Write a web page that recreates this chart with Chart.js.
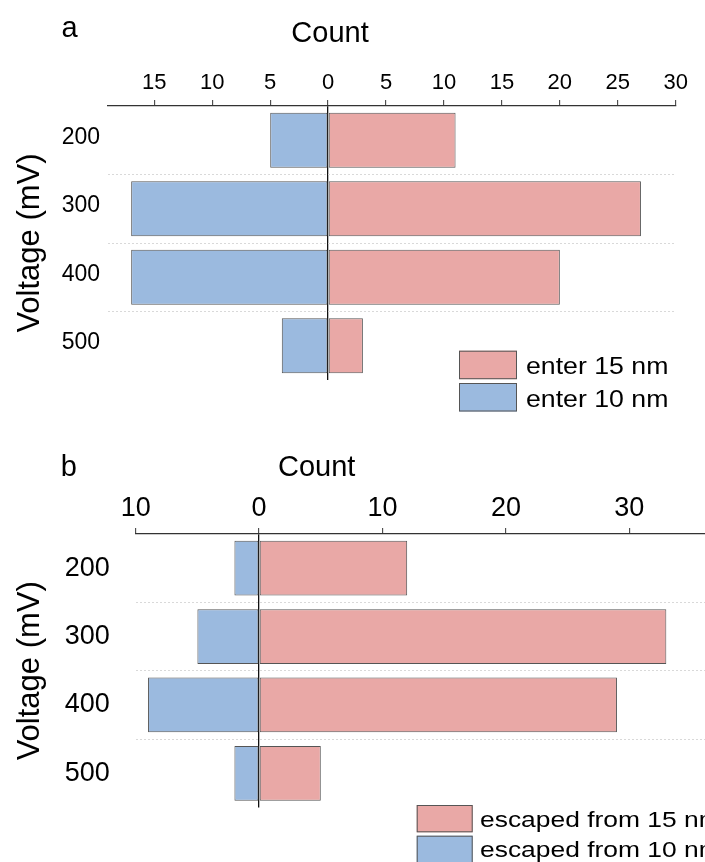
<!DOCTYPE html>
<html><head><meta charset="utf-8">
<script src="https://cdn.jsdelivr.net/npm/chart.js@4"></script>
<style>
html,body{margin:0;padding:0;background:#fff;overflow:hidden;width:705px;height:862px;}
#wrap{position:relative;width:705px;height:862px;overflow:hidden;background:#fff;}
#ca{position:absolute;left:0;top:0;}
#cb{position:absolute;left:0;top:430px;}
</style></head><body>
<div id="wrap"><canvas id="ca" width="705" height="430"></canvas><canvas id="cb" width="790" height="432"></canvas></div>
<script>
const voltages = ['200', '300', '400', '500'];
const enter15 = [11, 27, 20, 3];
const enter10 = [5, 17, 17, 4];
const escaped15 = [12, 33, 29, 5];
const escaped10 = [2, 5, 9, 2];
const ticksA = [-15, -10, -5, 0, 5, 10, 15, 20, 25, 30];
const ticksB = [-10, 0, 10, 20, 30, 40];

const RED = '#e9a8a6', BLUE = '#9bbadf', EDGE = '#555';
const FONT = '"Liberation Sans", Arial, Helvetica, sans-serif';
Chart.defaults.font.family = FONT;
Chart.defaults.color = '#000';

const overlay = {
  id: 'overlay',
  afterDraw(chart, args, opts) {
    const ctx = chart.ctx;
    ctx.save();
    ctx.fillStyle = '#000';
    ctx.textBaseline = 'alphabetic';
    (opts.texts || []).forEach(t => {
      ctx.font = t.size + 'px ' + FONT;
      ctx.textAlign = t.align || 'left';
      ctx.fillText(t.text, t.x, t.y);
    });
    const lg = opts.box;
    if (lg) {
      lg.order.forEach((di, k) => {
        const ds = chart.data.datasets[di];
        const y = lg.y + k * lg.step;
        ctx.fillStyle = ds.backgroundColor;
        ctx.fillRect(lg.x, y, lg.w, lg.h);
        ctx.strokeStyle = EDGE; ctx.lineWidth = 1;
        ctx.strokeRect(lg.x + 0.5, y + 0.5, lg.w - 1, lg.h - 1);
        ctx.fillStyle = '#000';
        ctx.font = lg.size + 'px ' + FONT;
        ctx.textAlign = 'left';
        ctx.save();
        ctx.translate(lg.tx, y + lg.base);
        ctx.scale(lg.sx, 1);
        ctx.fillText(ds.label, 0, 0);
        ctx.restore();
      });
    }
    ctx.restore();
  }
};

function build(canvasId, labels15, values15, labels10, values10, tickVals, c) {
  return new Chart(document.getElementById(canvasId), {
    type: 'bar',
    data: {
      labels: voltages,
      datasets: [
        { label: labels15, data: values15, backgroundColor: RED, borderColor: EDGE, borderWidth: 1, borderSkipped: false },
        { label: labels10, data: values10.map(v => -v), backgroundColor: BLUE, borderColor: EDGE, borderWidth: 1, borderSkipped: false }
      ]
    },
    options: {
      indexAxis: 'y',
      responsive: false,
      animation: false,
      devicePixelRatio: 1,
      layout: { padding: c.pad },
      datasets: { bar: { categoryPercentage: 0.8, barPercentage: 1.0 } },
      plugins: {
        legend: { display: false },
        tooltip: { enabled: false },
        overlay: { texts: c.texts, box: c.box }
      },
      scales: {
        x: {
          type: 'linear', position: 'top', stacked: true,
          min: c.min, max: c.max, z: 1,
          afterBuildTicks: s => { s.ticks = tickVals.map(v => ({ value: v })); },
          afterFit: s => { s.height = c.axisH; },
          ticks: { font: { size: c.xFont }, padding: c.xPad, color: '#000', maxRotation: 0, autoSkip: false,
                   callback: v => String(Math.abs(v)) },
          grid: { drawOnChartArea: true, color: g => (g.tick && g.tick.value === 0) ? '#111' : 'rgba(0,0,0,0)',
                  lineWidth: 1.3, tickColor: '#333', tickLength: 6, tickWidth: 1 },
          border: { display: true, color: '#333', width: 1.2 }
        },
        y: {
          stacked: true,
          afterFit: s => { s.width = c.axisW; },
          ticks: { font: { size: c.yFont }, padding: c.yPad, labelOffset: c.yOff, color: '#000' },
          grid: { color: g => (g.type !== 'tick' || g.index === 0) ? 'rgba(0,0,0,0)' : '#d9d9d9',
                  lineWidth: 1, drawTicks: false },
          border: { display: false, dash: [2, 2] },
          title: { display: true, text: 'Voltage (mV)', font: { size: c.tFont }, color: '#000',
                   padding: { top: c.tPad, bottom: 0 } }
        }
      }
    },
    plugins: [overlay]
  });
}

build('ca', 'enter 15 nm', enter15, 'enter 10 nm', enter10, ticksA, {
  min: -19, max: 30, axisH: 106, axisW: 108,
  pad: { top: 0, left: 0, right: 29.3, bottom: 50 },
  xFont: 22, xPad: 4, yFont: 23, yPad: 8, yOff: -3, tFont: 31, tPad: 11.4,
  texts: [
    { text: 'a', x: 61.5, y: 36.5, size: 29 },
    { text: 'Count', x: 330, y: 42.3, size: 29, align: 'center' }
  ],
  box: { order: [0, 1], x: 459, y: 350.7, w: 58, h: 28.5, step: 32.3, tx: 526, base: 23.6, size: 23, sx: 1.16 }
});

build('cb', 'escaped from 15 nm', escaped15, 'escaped from 10 nm', escaped10, ticksB, {
  min: -10, max: 40, axisH: 104, axisW: 135.7,
  pad: { top: 0, left: 0, right: 37.3, bottom: 54.5 },
  xFont: 27, xPad: 3, yFont: 27, yPad: 26, yOff: 0, tFont: 31, tPad: 11.4,
  texts: [
    { text: 'b', x: 60.7, y: 45.7, size: 29 },
    { text: 'Count', x: 278, y: 45.7, size: 29, align: 'left' }
  ],
  box: { order: [0, 1], x: 416.7, y: 375, w: 56, h: 27.3, step: 30.7, tx: 480, base: 21.7, size: 22, sx: 1.2 }
});
</script>
</body></html>
